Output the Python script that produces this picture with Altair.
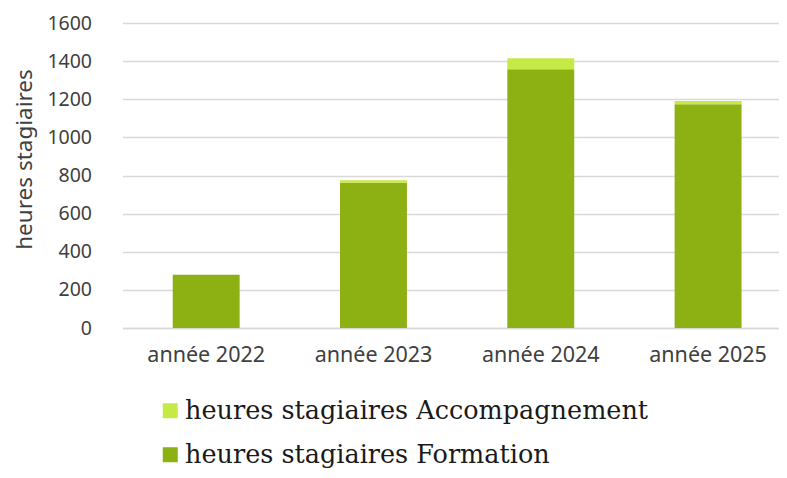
import altair as alt
import pandas as pd

years = ["année 2022", "année 2023", "année 2024", "année 2025"]
formation = [280, 762, 1357, 1174]
accompagnement = [0, 13, 58, 17]
series = ["heures stagiaires Accompagnement", "heures stagiaires Formation"]
colors = ["#C6EA45", "#8DB013"]
y_ticks = [0, 200, 400, 600, 800, 1000, 1200, 1400, 1600]

rows = []
for i, yr in enumerate(years):
    rows.append({"year": yr, "series": series[1], "value": formation[i], "ord": 0})
    rows.append({"year": yr, "series": series[0], "value": accompagnement[i], "ord": 1})
df = pd.DataFrame(rows)

font_sans = "Noto Sans"
chart = (
    alt.Chart(df)
    .mark_bar()
    .encode(
        x=alt.X(
            "year:N",
            sort=years,
            scale=alt.Scale(paddingInner=0.6, paddingOuter=0.2606, align=0.576),
            axis=alt.Axis(
                title=None,
                labelAngle=0,
                labelFont=font_sans,
                labelFontSize=21.5,
                labelColor="#404040",
                labelPadding=16,
                ticks=False,
                domainColor="#d9d9d9",
                domainWidth=1.5,
                grid=False,
            ),
        ),
        y=alt.Y(
            "value:Q",
            stack="zero",
            scale=alt.Scale(domain=[0, 1600], nice=False),
            axis=alt.Axis(
                title="heures stagiaires",
                values=y_ticks,
                format="d",
                labelFont=font_sans,
                labelFontSize=19.5,
                labelColor="#404040",
                labelPadding=31,
                ticks=False,
                domain=False,
                gridColor="#d9d9d9",
                gridWidth=1.5,
                titleFont=font_sans,
                titleFontSize=22.5,
                titleFontWeight="normal",
                titleColor="#404040",
                titleAngle=-90,
                titleBaseline="alphabetic",
                titleAlign="center",
                titleX=-91.5,
                titleY=136,
            ),
        ),
        color=alt.Color(
            "series:N",
            scale=alt.Scale(domain=series, range=colors),
            legend=alt.Legend(
                title=None,
                orient="none",
                legendX=35,
                legendY=375,
                direction="vertical",
                symbolType="square",
                symbolSize=225,
                symbolStrokeWidth=0,
                labelFont="DejaVu Serif",
                labelFontSize=25.5,
                labelColor="#1a1a1a",
                labelLimit=0,
                labelOffset=2,
                rowPadding=17,
            ),
        ),
        order=alt.Order("ord:Q", sort="ascending"),
    )
    .properties(
        width=656,
        height=305,
        autosize=alt.AutoSizeParams(type="none"),
        padding={"left": 114.5, "top": 15, "right": 0, "bottom": 142},
    )
    .configure_view(stroke=None)
)

chart.save("out.html", embed_options={"renderer": "svg", "actions": False})
